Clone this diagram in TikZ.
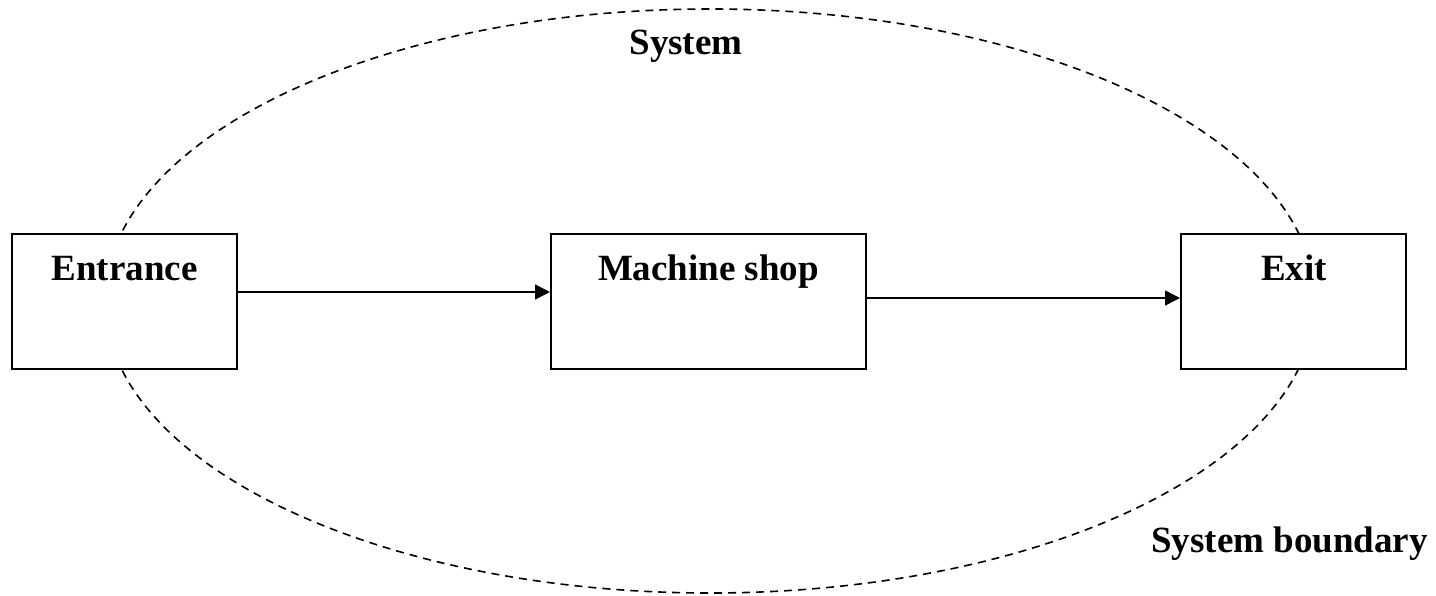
\documentclass[tikz,border=0pt]{standalone}
\usepackage{fontspec}
\setmainfont{Liberation Serif}
\usetikzlibrary{arrows.meta}
\begin{document}
\begin{tikzpicture}[x=1pt,y=-1pt,
  stage/.style={draw,line width=2pt,fill=white,minimum width=225pt,minimum height=135pt,inner sep=0pt},
  wide/.style={stage,minimum width=315pt},
  lbl/.style={font=\fontsize{37}{43}\selectfont\bfseries,anchor=base,inner sep=0pt},
  flow/.style={line width=1.6pt,-{Triangle[length=15pt,width=15pt]}},
  boundary/.style={line width=1.6pt,dash pattern=on 8pt off 6pt}]
\useasboundingbox (0,0) rectangle (1436,596);
% system boundary
\draw[boundary] (710,301) ellipse [x radius=605, y radius=292];
% stages
\node[stage] (entrance) at (124.5,301.5) {};
\node[wide] (shop) at (708.5,301.5) {};
\node[stage] (exit) at (1293.5,301.5) {};
\node[lbl] at (124.5,281) {Entrance};
\node[lbl] at (708.5,281) {Machine shop};
\node[lbl] at (1294,281) {Exit};
\node[lbl] at (686,55) {System};
\node[lbl] at (1289.5,552) {System boundary};
% flows
\draw[flow] (entrance.east |- 0,292) -- (shop.west |- 0,292);
\draw[flow] (shop.east |- 0,298) -- (exit.west |- 0,298);
\end{tikzpicture}
\end{document}
